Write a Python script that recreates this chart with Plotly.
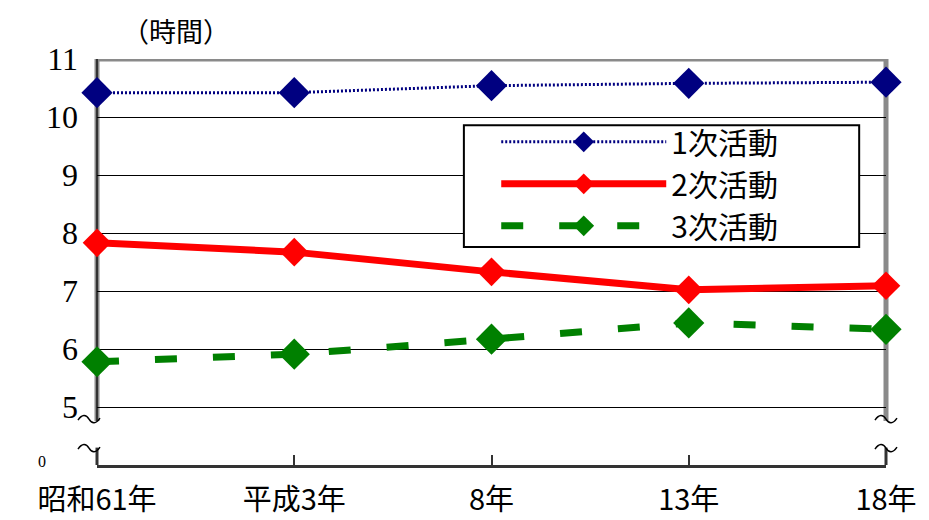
import plotly.graph_objects as go

categories = ["昭和61年", "平成3年", "8年", "13年", "18年"]
series_names = ["1次活動", "2次活動", "3次活動"]
primary = [10.42, 10.42, 10.54, 10.58, 10.60]
secondary = [7.83, 7.67, 7.33, 7.02, 7.09]
tertiary = [5.78, 5.91, 6.17, 6.45, 6.34]
ytick_vals = [4, 5, 6, 7, 8, 9, 10, 11]
ytick_text = ["", "5", "6", "7", "8", "9", "10", "11"]

NAVY = "#000080"
RED = "#FF0000"
GREEN = "#008000"
GRAY = "#8a8a8a"
DARK = "#333333"
CJK = "Noto Sans CJK JP"
SERIF = "Liberation Serif"

fig = go.Figure()
fig.add_trace(go.Scatter(
    x=categories, y=primary, name=series_names[0], mode="lines+markers",
    line=dict(color=NAVY, width=3, dash="2px,2px"),
    marker=dict(symbol="diamond", size=24, color=NAVY),
    cliponaxis=False))
fig.add_trace(go.Scatter(
    x=categories, y=secondary, name=series_names[1], mode="lines+markers",
    line=dict(color=RED, width=7),
    marker=dict(symbol="diamond", size=22, color=RED),
    cliponaxis=False))
fig.add_trace(go.Scatter(
    x=categories, y=tertiary, name=series_names[2], mode="lines+markers",
    line=dict(color=GREEN, width=7, dash="22px,36px"),
    marker=dict(symbol="diamond", size=24, color=GREEN),
    cliponaxis=False))


def tilde_path(dx):
    pts = [(-11, -1), (-7, 5), (-3, 5), (0, 0), (3, -5), (7, -5), (11, 1)]
    p = [(x + dx, y) for x, y in pts]
    return (f"M{p[0][0]},{p[0][1]} C{p[1][0]},{p[1][1]} {p[2][0]},{p[2][1]} {p[3][0]},{p[3][1]} "
            f"C{p[4][0]},{p[4][1]} {p[5][0]},{p[5][1]} {p[6][0]},{p[6][1]}")


shapes = []
shapes.append(dict(type="line", xref="paper", yref="y", x0=0, x1=1, y0=11, y1=11,
                   line=dict(color=GRAY, width=5), layer="between"))
for xp in (0, 1):
    shapes.append(dict(type="line", xref="paper", yref="y", x0=xp, x1=xp, y0=11, y1=4.76,
                       line=dict(color=GRAY, width=5), layer="between"))
    shapes.append(dict(type="line", xref="paper", yref="y", x0=xp, x1=xp, y0=4.3, y1=4,
                       line=dict(color=DARK, width=3), layer="between"))
shapes.append(dict(type="line", xref="paper", yref="y", x0=0, x1=0, y0=11, y1=4.76,
                   line=dict(color=DARK, width=2), layer="between"))
for xp, dx in ((0, -8), (1, 0)):
    for yv in (4.79, 4.29):
        shapes.append(dict(type="path", xref="paper", yref="y",
                           xsizemode="pixel", ysizemode="pixel",
                           xanchor=xp, yanchor=yv, path=tilde_path(dx),
                           line=dict(color="black", width=1.5), layer="above"))
# legend frame
shapes.append(dict(type="rect", xref="paper", yref="paper",
                   x0=0.465, x1=0.966, y0=0.537, y1=0.837,
                   fillcolor="white", line=dict(color="black", width=2), layer="above"))

fig.update_layout(
    width=929, height=520,
    margin=dict(l=89, r=51, t=51, b=63),
    paper_bgcolor="white", plot_bgcolor="white",
    showlegend=True,
    legend=dict(
        x=0.506, y=0.86, xanchor="left", yanchor="top",
        bgcolor="rgba(0,0,0,0)", borderwidth=0,
        font=dict(family=CJK, size=30, color="black"),
        itemwidth=165, tracegroupgap=0,
    ),
    xaxis=dict(
        type="category", range=[0, 4], automargin=False,
        showgrid=False, showline=True, linecolor=DARK, linewidth=3,
        ticks="inside", ticklen=10, tickcolor=DARK, tickwidth=1.5,
        ticklabelstandoff=7,
        tickfont=dict(family=CJK, size=29, color="black"),
        zeroline=False, fixedrange=True,
    ),
    yaxis=dict(
        range=[4, 11], tickvals=ytick_vals, ticktext=ytick_text, automargin=False,
        showgrid=True, gridcolor="black", gridwidth=1,
        showline=False, zeroline=False, ticks="",
        ticklabelstandoff=18,
        tickfont=dict(family=SERIF, size=32, color="black"),
    ),
    shapes=shapes,
    annotations=[
        dict(text="（時間）", xref="paper", yref="paper", x=0.1, y=1.0,
             yshift=29, xanchor="center", yanchor="middle", showarrow=False,
             font=dict(family=CJK, size=27, color="black")),
        dict(text="0", xref="paper", yref="y", x=0, y=4, xshift=-55, yshift=4,
             xanchor="center", yanchor="middle", showarrow=False,
             font=dict(family=SERIF, size=16, color="black")),
    ],
)

fig.write_html("out.html")
